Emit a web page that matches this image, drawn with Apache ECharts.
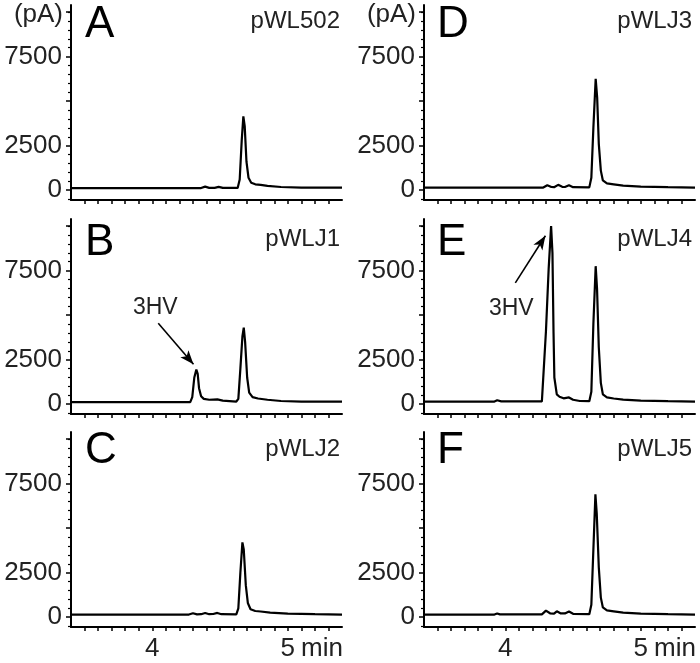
<!DOCTYPE html>
<html><head><meta charset="utf-8">
<script src="https://cdn.jsdelivr.net/npm/echarts@6/dist/echarts.min.js"></script>
<style>html,body{margin:0;padding:0;background:#fff}#c{width:700px;height:663px}</style>
</head><body><div id="c"></div>
<script>
// ---------- data ----------
const panelLetters = ['A', 'B', 'C', 'D', 'E', 'F'];
const sampleNames = ['pWL502', 'pWLJ1', 'pWLJ2', 'pWLJ3', 'pWLJ4', 'pWLJ5'];
const yUnit = '(pA)';
const xUnit = 'min';
const peakLabel = '3HV';

// [time (min), signal (pA)]
const traceA = [[3.40,120],[4.00,120],[4.36,120],[4.39,200],[4.42,130],[4.46,130],[4.49,190],[4.52,130],[4.63,130],[4.645,600],[4.66,2800],[4.672,4150],[4.682,3600],[4.695,1600],[4.71,700],[4.73,420],[4.76,330],[4.80,300],[4.85,240],[4.95,180],[5.10,150],[5.40,140]];
const traceB = [[3.40,120],[4.28,120],[4.295,400],[4.31,1500],[4.325,1950],[4.335,1700],[4.345,900],[4.36,450],[4.38,300],[4.42,250],[4.48,270],[4.52,200],[4.62,150],[4.635,300],[4.65,2000],[4.665,3800],[4.675,4300],[4.685,3500],[4.70,1500],[4.715,650],[4.74,400],[4.78,320],[4.85,250],[4.95,180],[5.10,150],[5.40,140]];
const traceC = [[3.40,150],[4.27,150],[4.30,220],[4.33,160],[4.36,170],[4.39,240],[4.42,170],[4.45,180],[4.48,240],[4.51,170],[4.62,160],[4.635,500],[4.65,2500],[4.665,4200],[4.675,3800],[4.69,1800],[4.705,800],[4.725,450],[4.76,350],[4.80,320],[4.87,260],[5.00,200],[5.20,170],[5.40,150]];
const traceD = [[3.40,150],[4.28,150],[4.31,280],[4.34,180],[4.36,170],[4.39,300],[4.42,190],[4.44,180],[4.47,280],[4.50,170],[4.62,160],[4.635,700],[4.65,3500],[4.667,6250],[4.678,5200],[4.69,2600],[4.705,1100],[4.72,550],[4.75,380],[4.80,330],[4.87,260],[5.00,200],[5.20,170],[5.40,150]];
const traceE = [[3.40,150],[3.92,150],[3.94,220],[3.97,160],[4.27,160],[4.30,4100],[4.32,7600],[4.338,10000],[4.348,8500],[4.356,4000],[4.362,1500],[4.38,550],[4.40,420],[4.43,330],[4.47,380],[4.50,250],[4.55,180],[4.62,170],[4.635,700],[4.65,4500],[4.667,7750],[4.677,6500],[4.69,3200],[4.705,1200],[4.72,550],[4.75,380],[4.80,320],[4.87,260],[5.00,200],[5.20,170],[5.40,150]];
const traceF = [[3.40,150],[3.92,150],[3.94,210],[3.96,160],[4.27,160],[4.30,370],[4.33,220],[4.36,200],[4.38,330],[4.41,210],[4.44,210],[4.47,320],[4.50,190],[4.62,170],[4.635,700],[4.65,3800],[4.665,6900],[4.675,5800],[4.69,2800],[4.705,1100],[4.72,550],[4.75,380],[4.80,330],[4.87,260],[5.00,200],[5.20,170],[5.40,150]];
const traces = [traceA, traceB, traceC, traceD, traceE, traceF];

// annotation arrows [from, to] and label anchor, in data units
const arrowB = [[4.044, 4550], [4.304, 2240]];
const labelPosB = [4.022, 5400];
const arrowE = [[4.074, 6810], [4.296, 9460]];
const labelPosE = [4.044, 5340];

// axis ranges and ticks
const xRange = [3.4, 5.4];
const yRange = [-550, 10400];
const xTickLabels = [4, 5];
const xTicks = [3.5,3.6,3.7,3.8,3.9,4.0,4.1,4.2,4.3,4.4,4.5,4.6,4.7,4.8,4.9,5.0,5.1,5.2,5.3];
const yTickLabels = [0, 2500, 7500];
const yMajorTicks = [0, 2500, 5000, 7500, 10000];
const yMinorTicks = [-500,500,1000,1500,2000,3000,3500,4000,4500,5500,6000,6500,7000,8000,8500,9000,9500,10000];

// ---------- layout ----------
const FONT = 'Liberation Sans';
const colLeft = [71, 424];
const colWidth = 271;
const rowTop = [5, 219, 432];
const rowHeight = 195;
const letterLeft = [85, 437];
const letterTop = [3, 221, 429];
const nameRight = [360, 8];
const nameTop = [9, 227.5, 437.5];

const grids = [], xAxes = [], yAxes = [], series = [], titles = [];
for (let i = 0; i < 6; i++) {
  const col = Math.floor(i / 3), row = i % 3;
  grids.push({ left: colLeft[col], top: rowTop[row], width: colWidth, height: rowHeight,
    containLabel: false, outerBoundsMode: 'none' });
  const bottomRow = row === 2;
  xAxes.push({
    type: 'value', gridIndex: i, min: xRange[0], max: xRange[1],
    axisLine: { show: true, onZero: false, lineStyle: { color: '#000', width: 2 } },
    axisTick: { show: true, inside: false, length: 4, customValues: xTicks, lineStyle: { color: '#000', width: 1.5 } },
    axisLabel: { show: bottomRow, customValues: xTickLabels, margin: 9, color: '#222', fontSize: 26, fontFamily: FONT,
      formatter: v => String(v) },
    splitLine: { show: false },
    name: bottomRow ? xUnit : '', nameLocation: 'end', nameGap: -41,
    nameTextStyle: { color: '#222', fontSize: 26, fontFamily: FONT, align: 'left', verticalAlign: 'top', lineHeight: 43 }
  });
  const topRow = row === 0;
  yAxes.push({
    type: 'value', gridIndex: i, min: yRange[0], max: yRange[1], position: 'left',
    axisLine: { show: true, onZero: false, lineStyle: { color: '#000', width: 2 } },
    axisTick: { show: true, length: 5, customValues: yMajorTicks, lineStyle: { color: '#000', width: 1.5 } },
    axisLabel: { show: true, customValues: yTickLabels, margin: 9, color: '#222', fontSize: 26, fontFamily: FONT,
      formatter: v => String(v) },
    splitLine: { show: false },
    name: topRow ? yUnit : '', nameLocation: 'end', nameGap: -10,
    nameTextStyle: { color: '#222', fontSize: 26, fontFamily: FONT, align: 'right', verticalAlign: 'middle', padding: [0, 8, 0, 0] }
  });
  yAxes.push({
    type: 'value', gridIndex: i, min: yRange[0], max: yRange[1], position: 'left',
    axisLine: { show: false },
    axisTick: { show: true, length: 3, customValues: yMinorTicks, lineStyle: { color: '#000', width: 1.2 } },
    axisLabel: { show: false }, splitLine: { show: false }
  });
  const s = {
    type: 'line', xAxisIndex: i, yAxisIndex: yAxes.length - 2, data: traces[i],
    showSymbol: false, symbol: 'none', smooth: false, clip: true,
    lineStyle: { color: '#000', width: 2.2 }, animation: false, silent: true
  };
  const arrow = i === 1 ? arrowB : (i === 4 ? arrowE : null);
  const lab = i === 1 ? labelPosB : (i === 4 ? labelPosE : null);
  if (arrow) {
    s.markLine = {
      silent: true, animation: false,
      symbol: ['none', 'arrow'], symbolSize: [8, 14],
      lineStyle: { color: '#000', width: 1.6, type: 'solid' },
      label: { show: false },
      data: [[{ coord: arrow[0] }, { coord: arrow[1] }]]
    };
    s.markPoint = {
      silent: true, animation: false, symbol: 'rect', symbolSize: 1,
      itemStyle: { color: 'rgba(0,0,0,0)' },
      label: { show: true, position: 'inside', formatter: peakLabel, color: '#222', fontSize: 23, fontFamily: FONT },
      data: [{ coord: lab }]
    };
  }
  series.push(s);
  titles.push({ text: panelLetters[i], left: letterLeft[col], top: letterTop[row], padding: 0,
    textStyle: { fontSize: 44, fontWeight: 'normal', color: '#000', fontFamily: FONT } });
  titles.push({ text: sampleNames[i], right: nameRight[col], top: nameTop[row], padding: 0,
    textStyle: { fontSize: 24, fontWeight: 'normal', color: '#222', fontFamily: FONT } });
}

const chart = echarts.init(document.getElementById('c'), null, { renderer: 'canvas' });
chart.setOption({
  backgroundColor: '#fff', animation: false,
  title: titles, grid: grids, xAxis: xAxes, yAxis: yAxes, series: series
});
</script></body></html>
